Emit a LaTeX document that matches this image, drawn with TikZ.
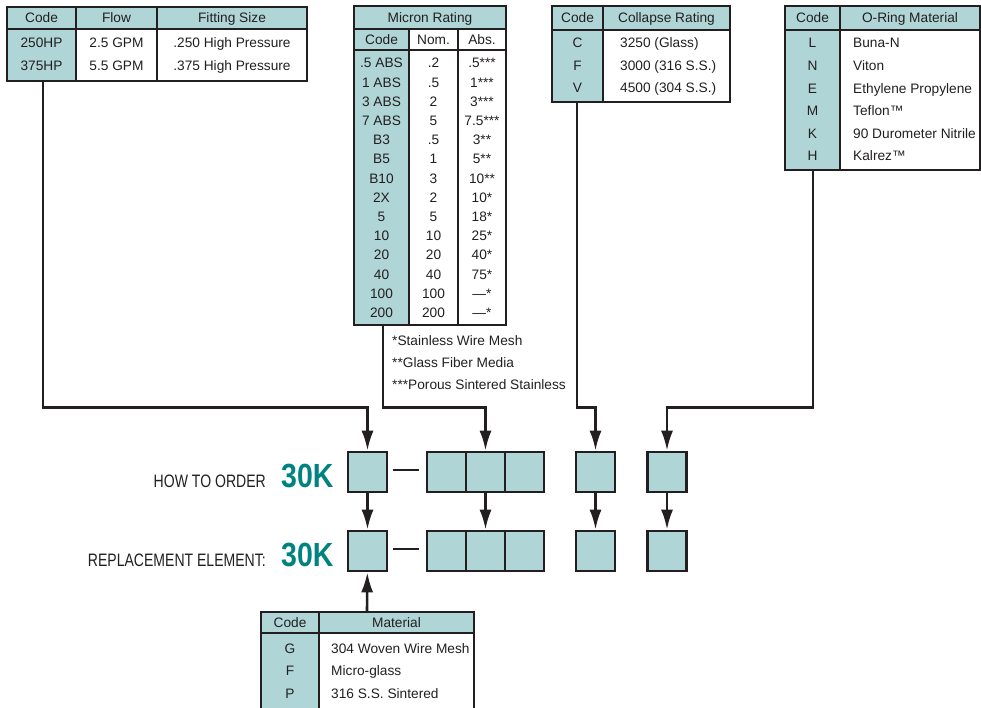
\documentclass[tikz,border=0pt]{standalone}
\usepackage{fontspec}
\setmainfont{Liberation Sans}
\newfontfamily\narrowfont{Liberation Sans}[FakeStretch=0.78]
\newfontfamily\heavyfont{Liberation Sans}[FakeStretch=0.85]
\usetikzlibrary{arrows.meta}
\usetikzlibrary{positioning}
\definecolor{cellteal}{RGB}{176,213,215}
\definecolor{codeteal}{RGB}{0,130,128}
\definecolor{rule}{RGB}{35,31,32}

\begin{document}
\begin{tikzpicture}[x=1pt, y=-1pt,
    tab/.style={draw=rule, line width=1.8pt},
    txt/.style={inner sep=0pt, anchor=base, text=rule, font=\fontsize{13.7}{16}\selectfont},
    ltxt/.style={txt, anchor=base west},
    slot/.style={draw=rule, fill=cellteal, line width=2.6pt, minimum width=39pt, minimum height=40pt, inner sep=0pt},
    feed/.style={draw=rule, line width=2.6pt, -{Latex[length=20pt, width=12pt]}},
    tag/.style={inner sep=0pt, anchor=base east, text=rule, font=\fontsize{18}{20}\narrowfont},
    bigcode/.style={inner sep=0pt, anchor=base west, text=codeteal, font=\fontsize{33.5}{36}\heavyfont\bfseries}]
        \useasboundingbox (0,0) rectangle (981,708);
        \clip (0,0) rectangle (981,708);

        \fill[cellteal] (7,7) rectangle (307,29) (7,29) rectangle (76,81);
        \draw[tab] (7,7) rectangle (307,81) (7,29) -- (307,29) (76,7) -- (76,81) (157,7) -- (157,81);
        \node[txt] (flowhead1) at (41.5,23) {Code};
        \node[txt] (flowhead2) at (116.5,23) {Flow};
        \node[txt] (flowhead3) at (232,23) {Fitting Size};
        \foreach \c/\f/\s [count=\i] in {250HP/2.5 GPM/.250 High Pressure, 375HP/5.5 GPM/.375 High Pressure} {
          \node[txt] (flowcode\i) at (41.5,25+23*\i) {\c};
          \node[txt] (flowrate\i) at (116.5,25+23*\i) {\f};
          \node[txt] (flowsize\i) at (232,25+23*\i) {\s};
        }
        \coordinate (flowout) at (43,81);

        \fill[cellteal] (354,6) rectangle (506,29) (354,29) rectangle (409,325);
        \draw[tab] (354,6) rectangle (506,325) (354,29) -- (506,29) (354,50) -- (506,50) (409,29) -- (409,325) (458,29) -- (458,325);
        \node[txt] (michead) at (430,23) {Micron Rating};
        \node[txt] (michead1) at (381.5,45) {Code};
        \node[txt] (michead2) at (433.5,45) {Nom.};
        \node[txt] (michead3) at (482,45) {Abs.};
        \foreach \c/\n/\a [count=\i] in {.5 ABS/.2/.5***, 1 ABS/.5/1***, 3 ABS/2/3***, 7 ABS/5/7.5***, B3/.5/3**, B5/1/5**, B10/3/10**, 2X/2/10*, 5/5/18*, 10/10/25*, 20/20/40*, 40/40/75*, 100/100/—*, 200/200/—*} {
          \node[txt] (miccode\i) at (381.5,48.8+19.2*\i) {\c};
          \node[txt] (micnom\i) at (433.5,48.8+19.2*\i) {\n};
          \node[txt] (micabs\i) at (482,48.8+19.2*\i) {\a};
        }
        \node[ltxt] (micnote1) at (392,345) {*Stainless Wire Mesh};
        \node[ltxt] (micnote2) at (392,367) {**Glass Fiber Media};
        \node[ltxt] (micnote3) at (392,389) {***Porous Sintered Stainless};
        \coordinate (micout) at (383,325);

        \fill[cellteal] (552,6) rectangle (730,30) (552,30) rectangle (603,102);
        \draw[tab] (552,6) rectangle (730,102) (552,30) -- (730,30) (603,6) -- (603,102);
        \node[txt] (colhead1) at (577.5,23) {Code};
        \node[txt] (colhead2) at (666.5,23) {Collapse Rating};
        \foreach \c/\r [count=\i] in {C/3250 (Glass), F/3000 (316 S.S.), V/4500 (304 S.S.)} {
          \node[txt] (colcode\i) at (577.5,25.5+22.5*\i) {\c};
          \node[ltxt] (colrate\i) at (620,25.5+22.5*\i) {\r};
        }
        \coordinate (colout) at (577,102);

        \fill[cellteal] (785,6) rectangle (980,30) (785,30) rectangle (840,170);
        \draw[tab] (785,6) rectangle (980,170) (785,30) -- (980,30) (840,6) -- (840,170);
        \node[txt] (ringhead1) at (812.5,23) {Code};
        \node[txt] (ringhead2) at (910,23) {O-Ring Material};
        \foreach \c/\m [count=\i] in {L/Buna-N, N/Viton, E/Ethylene Propylene, M/Teflon™, K/90 Durometer Nitrile, H/Kalrez™} {
          \node[txt] (ringcode\i) at (812.5,25.4+22.6*\i) {\c};
          \node[ltxt] (ringmat\i) at (853,25.4+22.6*\i) {\m};
        }
        \coordinate (ringout) at (813,170);

        \fill[cellteal] (261,612) rectangle (474,633) (261,633) rectangle (319,720);
        \draw[tab] (261,612) rectangle (474,720) (261,633) -- (474,633) (319,612) -- (319,720);
        \node[txt] (mathead1) at (290,627.5) {Code};
        \node[txt] (mathead2) at (396.5,627.5) {Material};
        \foreach \c/\m [count=\i] in {G/304 Woven Wire Mesh, F/Micro-glass, P/316 S.S. Sintered} {
          \node[txt] (matcode\i) at (290,630.5+22.5*\i) {\c};
          \node[ltxt] (matname\i) at (331,630.5+22.5*\i) {\m};
        }
        \coordinate (matout) at (367,612);

        \node[tag] (ordertag) at (266,487) {HOW TO ORDER};
        \node[bigcode] (ordercode) at (281,487) {30K};
        \node[tag] (repltag) at (266,566) {REPLACEMENT ELEMENT:};
        \node[bigcode] (replcode) at (281,566) {30K};

        \node[slot] (ord1) at (367.5,472) {};
        \node[slot] (ord2a) at (446.5,472) {};
        \node[slot] (ord2b) at (485.5,472) {};
        \node[slot] (ord2c) at (524.5,472) {};
        \node[slot] (ord3) at (595.5,472) {};
        \node[slot] (ord4) at (667,472) {};
        \node[slot] (rep1) at (367.5,551) {};
        \node[slot] (rep2a) at (446.5,551) {};
        \node[slot] (rep2b) at (485.5,551) {};
        \node[slot] (rep2c) at (524.5,551) {};
        \node[slot] (rep3) at (595.5,551) {};
        \node[slot] (rep4) at (667,551) {};

        \draw[rule, line width=2.6pt] ([xshift=5pt, yshift=2pt]ord1.east) -- ([xshift=-7pt, yshift=2pt]ord2a.west);
        \draw[rule, line width=2.6pt] ([xshift=5pt, yshift=2pt]rep1.east) -- ([xshift=-7pt, yshift=2pt]rep2a.west);

        \draw[feed] (flowout) |- ([yshift=43pt]ord1.north) -- (ord1.north);
        \draw[feed] (micout) |- ([yshift=43pt]ord2b.north) -- (ord2b.north);
        \draw[feed] (colout) |- ([yshift=43pt]ord3.north) -- (ord3.north);
        \draw[feed] (ringout) |- ([yshift=43pt]ord4.north) -- (ord4.north);
        \draw[feed] (ord1) -- (rep1);
        \draw[feed] (ord2b) -- (rep2b);
        \draw[feed] (ord3) -- (rep3);
        \draw[feed] (ord4) -- (rep4);
        \draw[feed] (matout) -- (rep1);
\end{tikzpicture}
\end{document}
